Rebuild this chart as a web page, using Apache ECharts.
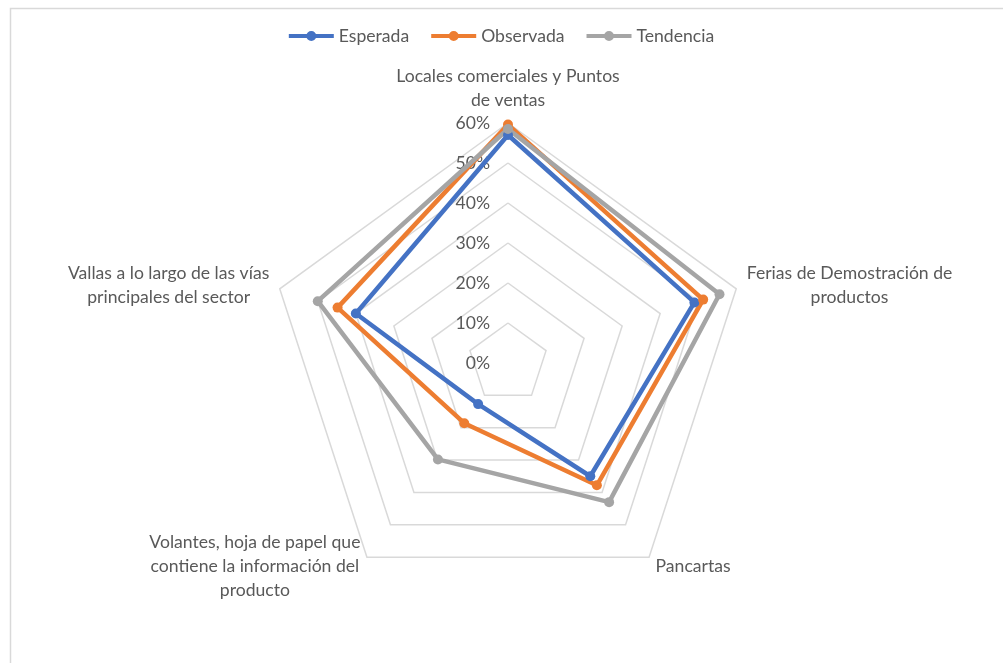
<!DOCTYPE html>
<html>
<head>
<meta charset="utf-8">
<script src="https://cdn.jsdelivr.net/npm/echarts@6/dist/echarts.min.js"></script>
<style>
html,body{margin:0;padding:0;background:#fff;}
#chart{width:1003px;height:663px;}
</style>
</head>
<body>
<div id="chart"></div>
<script>
// Categories in Excel (clockwise) order
var categories = [
  "Locales comerciales y Puntos\nde ventas",
  "Ferias de Demostración de\nproductos",
  "Pancartas",
  "Volantes, hoja de papel que\ncontiene la información del\nproducto",
  "Vallas a lo largo de las vías\nprincipales del sector"
];
var seriesNames = ["Esperada", "Observada", "Tendencia"];
var esperada  = [57.0, 49.0, 35.0, 12.7, 40.0];
var observada = [59.6, 51.3, 37.8, 18.6, 44.8];
var tendencia = [58.5, 55.6, 43.0, 29.8, 50.0];
var axisMax = 60;
var tickStep = 10;

var colors = ['#4472C4', '#ED7D31', '#A5A5A5'];
var FONT = 'Lato';
var TXT = '#595959';
var FS = 17.6;

// ECharts lays indicators counter-clockwise; Excel lays them clockwise.
var order = [0, 4, 3, 2, 1];
function reorder(arr){ return order.map(function(i){ return arr[i]; }); }

var indicator = reorder(categories).map(function(name, k){
  var ind = { name: name, min: 0, max: axisMax };
  if (k !== 0) ind.axisLabel = { show: false };
  return ind;
});

var legendIcon = 'path://M0,3 L45,3 L45,7 L0,7 Z M22.5,0 A5,5 0 1 1 22.5,10 A5,5 0 1 1 22.5,0 Z';

var chart = echarts.init(document.getElementById('chart'));
chart.setOption({
  backgroundColor: '#fff',
  animation: false,
  textStyle: { fontFamily: FONT },
  graphic: [{
    type: 'rect', left: 8, top: 6, z: -10, silent: true,
    shape: { width: 1100, height: 720 },
    style: { fill: 'none', stroke: '#d9d9d9', lineWidth: 1.5 }
  }],
  legend: {
    top: 22, left: 'center',
    itemWidth: 45, itemHeight: 10, itemGap: 22,
    textStyle: { fontFamily: FONT, fontSize: FS, color: TXT },
    data: seriesNames.map(function(n){ return { name: n, icon: legendIcon }; })
  },
  radar: {
    center: [508, 363],
    radius: 240,
    shape: 'polygon',
    splitNumber: axisMax / tickStep,
    nameGap: 11,
    indicator: indicator,
    axisName: {
      color: TXT, fontFamily: FONT, fontSize: FS, lineHeight: 24,
      formatter: function(v){
        return v.split('\n').map(function(l){ return '{c|' + l + '}'; }).join('\n');
      },
      rich: { c: { align: 'center', color: TXT, fontFamily: FONT, fontSize: FS, lineHeight: 24 } }
    },
    axisLine: { show: false },
    axisTick: { show: false },
    axisLabel: {
      show: true, color: TXT, fontFamily: FONT, fontSize: FS, margin: 18,
      formatter: function(v){ return Math.round(v) + '%'; }
    },
    splitLine: { lineStyle: { color: '#d9d9d9', width: 1.5 } },
    splitArea: { show: false }
  },
  series: [{
    type: 'radar',
    symbol: 'circle',
    symbolSize: 10,
    data: [
      { name: seriesNames[0], value: reorder(esperada),
        itemStyle: { color: colors[0] }, lineStyle: { color: colors[0], width: 4.5 } },
      { name: seriesNames[1], value: reorder(observada),
        itemStyle: { color: colors[1] }, lineStyle: { color: colors[1], width: 4.5 } },
      { name: seriesNames[2], value: reorder(tendencia),
        itemStyle: { color: colors[2] }, lineStyle: { color: colors[2], width: 4.5 } }
    ]
  }]
});
</script>
</body>
</html>
